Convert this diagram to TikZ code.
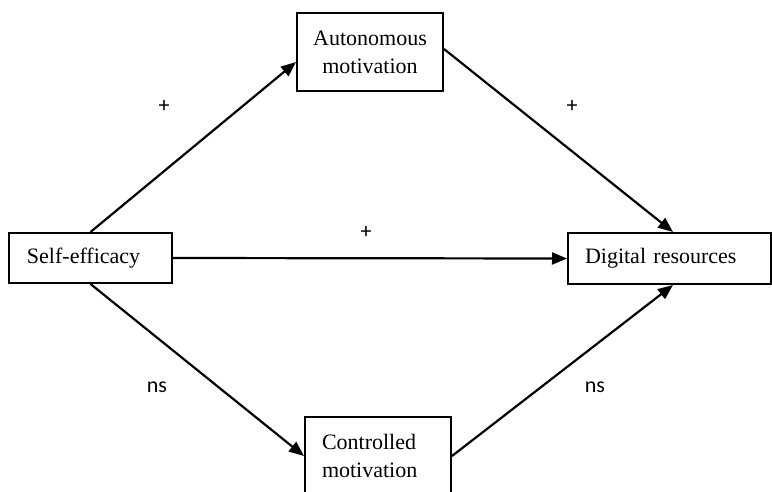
\documentclass[tikz,border=0pt]{standalone}
\usepackage{fontspec}
\setmainfont{Liberation Serif}
\newfontfamily\labfont{Carlito}
\usetikzlibrary{arrows.meta,calc}
\begin{document}
\begin{tikzpicture}[x=1pt,y=-1pt,
  box/.style={draw,line width=2pt,font=\fontsize{22}{28}\selectfont,inner sep=0pt},
  conn/.style={line width=2.2pt,-{Triangle[length=15pt,width=12pt]}},
  lab/.style={font=\labfont\fontsize{22}{26}\selectfont}]
\useasboundingbox (0,0) rectangle (772,491);
\clip (0,0) rectangle (772,491);
\node[box,minimum width=146pt,minimum height=78pt,align=center] (auto) at (370,52) {Autonomous\\motivation};
\node[box,minimum width=163pt,minimum height=50pt,text width=127pt,align=left] (self) at (90.5,258) {Self-efficacy};
\node[box,minimum width=203pt,minimum height=51pt,text width=169pt,align=left] (dig) at (669.5,258.5) {Digital resources};
\node[box,minimum width=146pt,minimum height=78pt,text width=112pt,align=left] (ctrl) at (378,456) {Controlled\\motivation};
\draw[conn] (self.north) -- ([yshift=-10pt]auto.west);
\draw[conn] ([yshift=3pt]auto.east) -- ([xshift=3.5pt]dig.north);
\draw[conn] (self.east) -- (dig.west);
\draw[conn] (self.south) -- (ctrl.west);
\draw[conn] (ctrl.east) -- ([xshift=3.5pt]dig.south);
\node[lab] (l1) at (164,106) {+};
\node[lab] (l2) at (572,106) {+};
\node[lab] (l3) at (366,232) {+};
\node[lab] (l4) at (157,387) {ns};
\node[lab] (l5) at (595,387) {ns};
\end{tikzpicture}
\end{document}
